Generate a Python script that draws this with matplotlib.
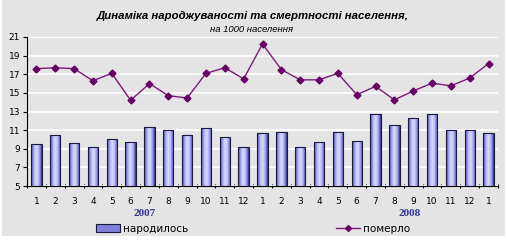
import numpy as np
import matplotlib.pyplot as plt
from matplotlib.patches import Rectangle
from matplotlib.lines import Line2D
from matplotlib.colors import LinearSegmentedColormap

months = ['1', '2', '3', '4', '5', '6', '7', '8', '9', '10', '11', '12',
          '1', '2', '3', '4', '5', '6', '7', '8', '9', '10', '11', '12', '1']
born = [9.5, 10.5, 9.6, 9.2, 10.0, 9.7, 11.35, 11.0, 10.5, 11.25, 10.3, 9.2,
        10.7, 10.8, 9.2, 9.7, 10.8, 9.8, 12.7, 11.6, 12.3, 12.7, 11.0, 11.05, 10.7]
died = [17.6, 17.7, 17.6, 16.3, 17.1, 14.2, 16.0, 14.7, 14.45, 17.1, 17.7, 16.5,
        20.25, 17.5, 16.4, 16.4, 17.1, 14.8, 15.7, 14.25, 15.2, 16.05, 15.75, 16.6, 18.15]
years = ['2007', '2008']

bg = '#e4e4e4'
fig = plt.figure(figsize=(5.07, 2.42), dpi=100)
fig.patch.set_facecolor('white')
fig.patches.append(Rectangle((0.004, 6 / 242), 0.992, 236 / 242, transform=fig.transFigure,
                             facecolor=bg, edgecolor='none', zorder=-10))

ax = fig.add_axes([27 / 507, 1 - 186 / 242, 471 / 507, 149 / 242])
ax.set_facecolor(bg)
x = np.arange(len(months))

# bars start at the axis baseline 5
bars = ax.bar(x, np.array(born) - 5, bottom=5, width=0.55, color='#8080dd',
              edgecolor='#1a1a40', linewidth=0.8, zorder=3)
grad = np.abs(np.linspace(-1, 1, 64)) ** 1.5
grad = np.vstack([grad, grad])
cmap = LinearSegmentedColormap.from_list('b', ['#d8d8ff', '#9090e8', '#2a2a80'])
for b in bars:
    x0, y0 = b.get_x(), b.get_y()
    im = ax.imshow(grad, extent=[x0, x0 + b.get_width(), y0, y0 + b.get_height()],
                   cmap=cmap, aspect='auto', zorder=3.5, interpolation='bilinear')
    im.set_clip_path(b)
    b.set_facecolor('none')
    b.set_zorder(4)

ax.plot(x, died, color='#7a1a7a', lw=1, marker='D', ms=3.5, mfc='#660066',
        mec='#660066', zorder=5)

ax.set_xlim(-0.5, len(months) - 0.5)
ax.set_ylim(5, 21)
ax.set_yticks(range(5, 22, 2))
ax.set_xticks(x)
ax.set_xticklabels(months)
ax.set_xticks(np.arange(-0.5, len(months), 1), minor=True)
ax.tick_params(axis='x', which='major', length=0, labelsize=6.5, pad=8)
ax.tick_params(axis='x', which='minor', length=3, direction='inout', width=0.8)
ax.tick_params(axis='y', length=3, width=0.8, labelsize=6.5, pad=2)
ax.grid(axis='y', color='white', lw=1.2, zorder=0)
for s in ['top', 'right']:
    ax.spines[s].set_visible(False)
ax.spines['left'].set_linewidth(0.8)
ax.spines['bottom'].set_linewidth(0.8)

for xp, yr in zip([145, 410], years):
    fig.text(xp / 507, 1 - 214 / 242, yr, ha='center', va='center', fontsize=8,
             fontweight='bold', family='Liberation Serif', color='#333399')

fig.text(253 / 507, 1 - 16 / 242, 'Динаміка народжуваності та смертності населення,',
         ha='center', va='center', fontsize=8.2, fontweight='bold', style='italic',
         family='Liberation Sans')
fig.text(252 / 507, 1 - 30 / 242, 'на 1000 населення', ha='center', va='center',
         fontsize=6.8, style='italic', family='Liberation Sans')

h1 = Rectangle((0, 0), 1, 1, facecolor='#8080dd', edgecolor='#1a1a40', lw=0.8)
h2 = Line2D([], [], color='#7a1a7a', lw=1, marker='D', ms=3, mfc='#660066', mec='#660066')
fig.legend([h1], ['народилось'], loc='center', bbox_to_anchor=(142 / 507, 1 - 229 / 242),
           frameon=False, fontsize=7.5, handlelength=2.3, handleheight=0.8, handletextpad=0.3)
fig.legend([h2], ['померло'], loc='center', bbox_to_anchor=(373 / 507, 1 - 229 / 242),
           frameon=False, fontsize=7.5, handlelength=2.3, handletextpad=0.3)

fig.savefig('out.png', dpi=100, facecolor=fig.get_facecolor())
